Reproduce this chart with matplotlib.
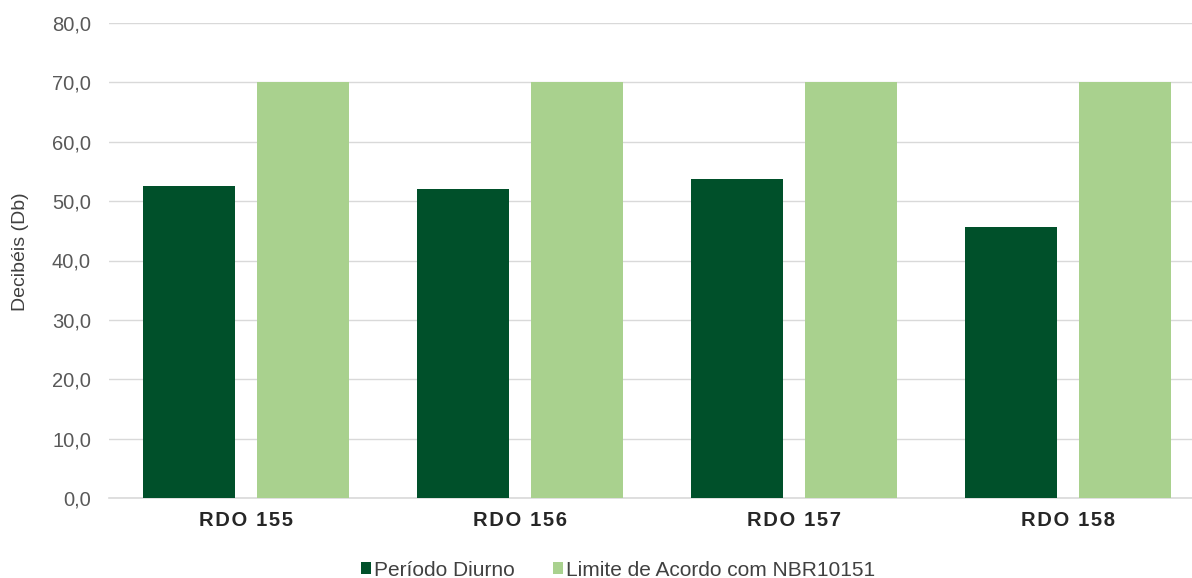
import matplotlib
matplotlib.use("Agg")
import matplotlib.pyplot as plt
import numpy as np
from matplotlib.ticker import FuncFormatter, MultipleLocator
from matplotlib.patches import Patch

plt.rcParams['font.family'] = ['Liberation Sans', 'DejaVu Sans']

categories = ["RDO 155", "RDO 156", "RDO 157", "RDO 158"]
periodo_diurno = [52.5, 52.0, 53.8, 45.7]
limite_nbr = [70.0, 70.0, 70.0, 70.0]
series_names = ["Período Diurno", "Limite de Acordo com NBR10151"]

dark_green = "#00502A"
light_green = "#A9D18E"
grid_gray = "#D9D9D9"
text_gray = "#595959"

W, H = 1192, 578
fig = plt.figure(figsize=(W / 100, H / 100), dpi=100)
ax = fig.add_axes([109 / W, 80 / H, 1096 / W, 475 / H])

x = np.arange(len(categories))
width = 0.336
offset = 0.208
ax.bar(x - offset, periodo_diurno, width, color=dark_green, zorder=3)
ax.bar(x + offset, limite_nbr, width, color=light_green, zorder=3)

ax.set_xlim(-0.5, len(categories) - 0.5)
ax.set_ylim(0, 80)
ax.yaxis.set_major_locator(MultipleLocator(10))
ax.yaxis.set_major_formatter(FuncFormatter(lambda v, _: f"{v:.1f}".replace(".", ",")))
ax.grid(axis="y", color=grid_gray, linewidth=1, zorder=0)
ax.set_axisbelow(True)

for side in ("top", "right", "left"):
    ax.spines[side].set_visible(False)
ax.spines["bottom"].set_color(grid_gray)
ax.spines["bottom"].set_linewidth(1.2)

ax.tick_params(axis="y", length=0, pad=13, labelsize=14.5, labelcolor=text_gray)
ax.tick_params(axis="x", length=0, pad=9)
ax.set_xticks(x)
ax.set_xticklabels(["\u200a".join(c) for c in categories], fontsize=14.5,
                   fontweight="bold", color="#262626")

fig.text(21 / W, 1 - 252 / H, "Decibéis (Db)", rotation=90, ha="center", va="center",
         fontsize=14, color="#404040")

handles = [Patch(facecolor=dark_green), Patch(facecolor=light_green)]
fig.legend(handles, series_names, loc="center", bbox_to_anchor=(618 / W, 1 - 570 / H),
           ncol=2, frameon=False, fontsize=15, handlelength=0.48, handleheight=0.48,
           handletextpad=0.15, columnspacing=1.85, labelcolor="#404040")

fig.savefig("out.png", dpi=100)
